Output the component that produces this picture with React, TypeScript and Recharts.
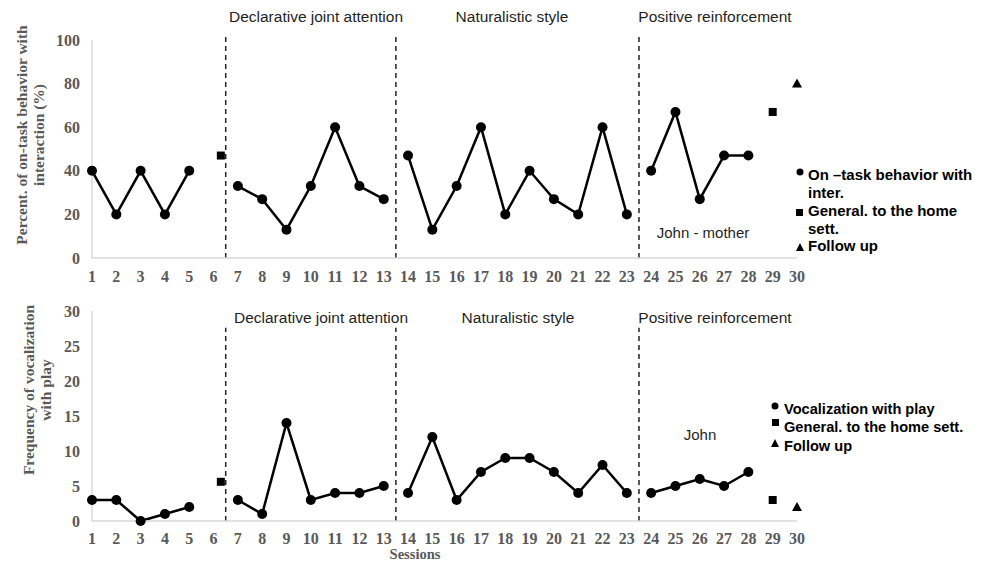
import { ComposedChart, Line, Scatter, XAxis, YAxis, ReferenceLine } from 'recharts';

// sessions on the x axis
const sessionTicks = [1, 2, 3, 4, 5, 6, 7, 8, 9, 10, 11, 12, 13, 14, 15, 16, 17, 18, 19, 20, 21, 22, 23, 24, 25, 26, 27, 28, 29, 30];
const baselineSessions = [1, 2, 3, 4, 5];
const djaSessions = [7, 8, 9, 10, 11, 12, 13];
const natSessions = [14, 15, 16, 17, 18, 19, 20, 21, 22, 23];
const posSessions = [24, 25, 26, 27, 28];
const generalSessions = [6.3, 29];
const followSessions = [30];
const phaseBreaks = [6.5, 13.5, 23.5];

// top panel: on-task behavior with interaction (%)
const topBaseline = [40, 20, 40, 20, 40];
const topDja = [33, 27, 13, 33, 60, 33, 27];
const topNat = [47, 13, 33, 60, 20, 40, 27, 20, 60, 20];
const topPos = [40, 67, 27, 47, 47];
const topGeneral = [47, 67];
const topFollow = [80];
const topYTicks = [0, 20, 40, 60, 80, 100];

// bottom panel: frequency of vocalization with play
const botBaseline = [3, 3, 0, 1, 2];
const botDja = [3, 1, 14, 3, 4, 4, 5];
const botNat = [4, 12, 3, 7, 9, 9, 7, 4, 8, 4];
const botPos = [4, 5, 6, 5, 7];
const botGeneral = [5.6, 3];
const botFollow = [2];
const botYTicks = [0, 5, 10, 15, 20, 25, 30];

const phaseNames = ['Declarative joint attention', 'Naturalistic style', 'Positive reinforcement'];

const rows = (xs: number[], ys: number[]) => xs.map((s, i) => ({ s, v: ys[i] }));

const tickStyle = { fontFamily: '"Liberation Serif", serif', fontWeight: 700, fontSize: 16, fill: '#595959' };

const SquareMark = (p: any) => <rect x={p.cx - 4} y={p.cy - 4} width={8} height={8} fill="#000" />;
const TriMark = (p: any) => <path d={`M${p.cx},${p.cy - 5} L${p.cx + 5},${p.cy + 4} L${p.cx - 5},${p.cy + 4} Z`} fill="#000" />;

function Panel(props: {
  height: number;
  top: number;
  xTickMargin: number;
  yMax: number;
  yTicks: number[];
  lineTop: number;
  series: number[][];
  general: number[];
  follow: number[];
}) {
  const { height, top, xTickMargin, yMax, yTicks, lineTop, series, general, follow } = props;
  const phases = [baselineSessions, djaSessions, natSessions, posSessions];
  return (
    <ComposedChart width={988} height={height} margin={{ top, right: 191, bottom: 0, left: 0 }}>
      <XAxis
        type="number"
        dataKey="s"
        domain={[1, 30]}
        ticks={sessionTicks}
        interval={0}
        tickLine={false}
        tickSize={0}
        tickMargin={xTickMargin}
        height={32}
        axisLine={{ stroke: '#d9d9d9', strokeWidth: 1.5 }}
        tick={tickStyle}
      />
      <YAxis
        type="number"
        domain={[0, yMax]}
        ticks={yTicks}
        width={92}
        tickLine={false}
        tickSize={0}
        tickMargin={12}
        axisLine={{ stroke: '#d9d9d9', strokeWidth: 1.5 }}
        tick={tickStyle}
      />
      {phaseBreaks.map((b) => (
        <ReferenceLine
          key={b}
          segment={[{ x: b, y: 0 }, { x: b, y: lineTop }]}
          ifOverflow="visible"
          stroke="#222"
          strokeWidth={1.5}
          strokeDasharray="5 4"
        />
      ))}
      {phases.map((xs, i) => (
        <Line
          key={i}
          data={rows(xs, series[i])}
          dataKey="v"
          stroke="#000"
          strokeWidth={2.5}
          dot={{ r: 5, fill: '#000', stroke: '#000', strokeWidth: 0 }}
          isAnimationActive={false}
        />
      ))}
      <Scatter data={rows(generalSessions, general)} dataKey="v" shape={SquareMark} isAnimationActive={false} />
      <Scatter data={rows(followSessions, follow)} dataKey="v" shape={TriMark} isAnimationActive={false} />
    </ComposedChart>
  );
}

const serifTitle = { fontFamily: '"Liberation Serif", serif', fontWeight: 700, fontSize: 15.5, fill: '#595959' };
const sansLabel = { fontFamily: '"Liberation Sans", Arial, sans-serif', fontSize: 15.5, fill: '#1f1f1f' };
const johnLabel = { ...sansLabel, fontSize: 15 };
const legendTop = { fontFamily: '"Liberation Sans", Arial, sans-serif', fontWeight: 700, fontSize: 15, fill: '#000' };
const legendBot = { ...legendTop, fontSize: 14.6 };

export default function App() {
  return (
    <div style={{ position: 'relative', width: 988, height: 564, background: '#fff' }}>
      <style>{'body{margin:0}'}</style>
      <div style={{ position: 'absolute', left: 0, top: 0 }}>
        <Panel
          height={290}
          top={40}
          xTickMargin={13}
          yMax={100}
          yTicks={topYTicks}
          lineTop={102.8}
          series={[topBaseline, topDja, topNat, topPos]}
          general={topGeneral}
          follow={topFollow}
        />
      </div>
      <div style={{ position: 'absolute', left: 0, top: 289 }}>
        <Panel
          height={264}
          top={22}
          xTickMargin={12}
          yMax={30}
          yTicks={botYTicks}
          lineTop={27.6}
          series={[botBaseline, botDja, botNat, botPos]}
          general={botGeneral}
          follow={botFollow}
        />
      </div>
      <svg width={988} height={564} style={{ position: 'absolute', left: 0, top: 0, pointerEvents: 'none' }}>
        {/* phase titles */}
        <text x={316} y={22} textAnchor="middle" style={sansLabel}>{phaseNames[0]}</text>
        <text x={512} y={22} textAnchor="middle" style={sansLabel}>{phaseNames[1]}</text>
        <text x={715} y={22} textAnchor="middle" style={sansLabel}>{phaseNames[2]}</text>
        <text x={321} y={323} textAnchor="middle" style={sansLabel}>{phaseNames[0]}</text>
        <text x={518} y={323} textAnchor="middle" style={sansLabel}>{phaseNames[1]}</text>
        <text x={715} y={323} textAnchor="middle" style={sansLabel}>{phaseNames[2]}</text>
        <text x={703} y={238} textAnchor="middle" style={johnLabel}>John - mother</text>
        <text x={700} y={440} textAnchor="middle" style={johnLabel}>John</text>

        {/* y axis titles */}
        <g transform="translate(27,135) rotate(-90)">
          <text x={0} y={0} textAnchor="middle" style={serifTitle}>Percent. of on-task behavior with</text>
          <text x={0} y={17} textAnchor="middle" style={serifTitle}>interaction (%)</text>
        </g>
        <g transform="translate(34,390) rotate(-90)">
          <text x={0} y={0} textAnchor="middle" style={serifTitle}>Frequency of vocalization</text>
          <text x={0} y={17} textAnchor="middle" style={serifTitle}>with  play</text>
        </g>
        <text x={415} y={559} textAnchor="middle" style={{ ...serifTitle, fontSize: 14.5 }}>Sessions</text>

        {/* top legend */}
        <circle cx={800} cy={172} r={3.5} fill="#000" />
        <text x={808} y={180} style={legendTop}>On –task behavior with</text>
        <text x={808} y={198} style={legendTop}>inter.</text>
        <rect x={796} y={209} width={7} height={7} fill="#000" />
        <text x={808} y={216} style={legendTop}>General. to the home</text>
        <text x={808} y={234} style={legendTop}>sett.</text>
        <path d="M800,243 L804,251 L796,251 Z" fill="#000" />
        <text x={808} y={251} style={legendTop}>Follow up</text>

        {/* bottom legend */}
        <circle cx={775} cy={406} r={3.5} fill="#000" />
        <text x={784} y={414} style={legendBot}>Vocalization with play</text>
        <rect x={772} y={419} width={7} height={7} fill="#000" />
        <text x={784} y={432} style={legendBot}>General. to the home sett.</text>
        <path d="M775,439 L779,447 L771,447 Z" fill="#000" />
        <text x={784} y={451} style={legendBot}>Follow up</text>
      </svg>
    </div>
  );
}
